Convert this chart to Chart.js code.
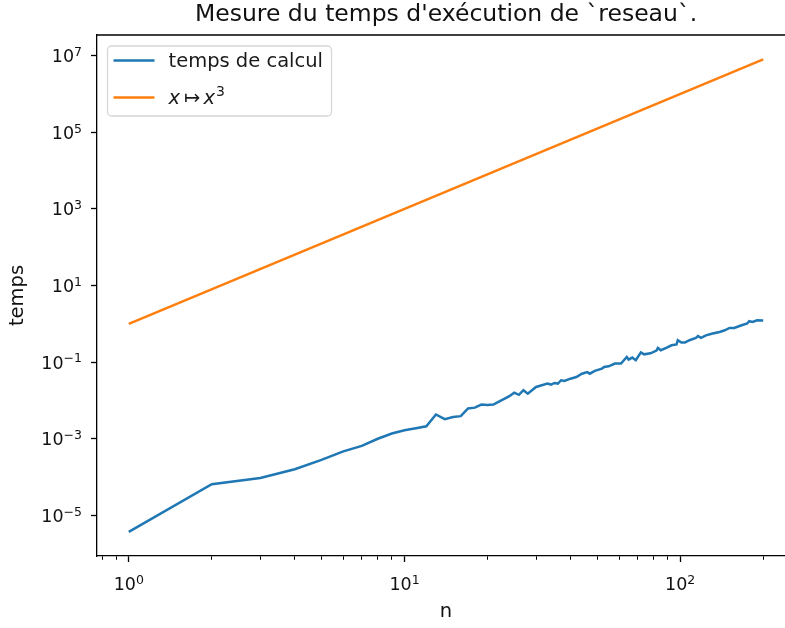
<!DOCTYPE html>
<html>
<head>
<meta charset="utf-8">
<script src="https://cdn.jsdelivr.net/npm/chart.js@4.4.0/dist/chart.umd.min.js"></script>
<style>
  html, body { margin: 0; padding: 0; overflow: hidden; background: #fff; }
  #wrap { width: 830px; height: 628px; }
</style>
</head>
<body>
<div id="wrap"><canvas id="chart" width="830" height="628"></canvas></div>
<script>
// values
const nValues = [1, 2, 3, 4, 5, 6, 7, 8, 9, 10, 11, 12, 13, 14, 15, 16, 17, 18, 19, 20,
  21, 22, 23, 24, 25, 26, 27, 28, 29, 30, 33, 34, 35, 36, 37, 38, 40, 42, 44, 46,
  47, 49, 52, 53, 55, 58, 61, 64, 65, 67, 69, 72, 74, 78, 82, 83, 85, 89, 93, 97,
  98, 101, 104, 108, 114, 116, 119, 124, 131, 139, 145, 151, 157, 167, 175, 178, 183, 190, 200];
const tempsCalcul = [3.7e-6, 6.5e-5, 9.5e-5, 1.6e-4, 2.8e-4, 4.7e-4, 6.5e-4, 1.0e-3, 1.37e-3, 1.67e-3,
  1.88e-3, 2.12e-3, 4.3e-3, 3.24e-3, 3.7e-3, 3.9e-3, 6.2e-3, 6.5e-3, 7.8e-3, 7.6e-3,
  7.8e-3, 9.3e-3, 1.1e-2, 1.29e-2, 1.6e-2, 1.4e-2, 1.85e-2, 1.5e-2, 1.85e-2, 2.25e-2,
  2.76e-2, 2.6e-2, 2.86e-2, 2.76e-2, 3.37e-2, 3.24e-2, 3.7e-2, 4.1e-2, 5.0e-2, 5.5e-2,
  5.0e-2, 5.9e-2, 6.8e-2, 7.5e-2, 7.8e-2, 9.2e-2, 9.2e-2, 0.137, 0.117, 0.132,
  0.112, 0.18, 0.16, 0.17, 0.2, 0.235, 0.205, 0.235, 0.276, 0.29,
  0.373, 0.325, 0.325, 0.373, 0.43, 0.48, 0.43, 0.5, 0.56, 0.615,
  0.68, 0.78, 0.78, 0.92, 1.02, 1.17, 1.12, 1.24, 1.22];
const cubeN = [1, 200];
const cubeValues = [1, 8e6];

const xMajorTicks = [1, 10, 100];
const xTickExponents = ['0', '1', '2'];
const xMinorTicks = [0.8, 0.9, 2, 3, 4, 5, 6, 7, 8, 9, 20, 30, 40, 50, 60, 70, 80, 90, 200];
const yMajorTicks = [1e-5, 1e-3, 1e-1, 1e1, 1e3, 1e5, 1e7];
const yTickExponents = ['\u22125', '\u22123', '\u22121', '1', '3', '5', '7'];

const FONT = "'DejaVu Sans', sans-serif";
const TICK_SIZE = 17.5;
const EXP_SIZE = 12.5;

function toPoints(xs, ys) {
  return xs.map((x, i) => ({ x: x, y: ys[i] }));
}

// "10" followed by a raised exponent, like matplotlib's mathtext labels
function powerLabel(c, exp, x, baseline, align) {
  c.font = TICK_SIZE + 'px ' + FONT;
  const wBase = c.measureText('10').width;
  c.font = EXP_SIZE + 'px ' + FONT;
  const wExp = c.measureText(exp).width;
  const total = wBase + wExp;
  const left = align === 'center' ? x - total / 2 : x - total;
  c.textAlign = 'left';
  c.textBaseline = 'alphabetic';
  c.font = TICK_SIZE + 'px ' + FONT;
  c.fillText('10', left, baseline);
  c.font = EXP_SIZE + 'px ' + FONT;
  c.fillText(exp, left + wBase, baseline - 6.3);
}

const tickLabels = {
  id: 'tickLabels',
  afterDraw(chart) {
    const { ctx: c, scales, chartArea: a } = chart;
    c.save();
    c.fillStyle = '#111';
    xMajorTicks.forEach((v, i) => {
      powerLabel(c, xTickExponents[i], scales.x.getPixelForValue(v), a.bottom + 34, 'center');
    });
    yMajorTicks.forEach((v, i) => {
      powerLabel(c, yTickExponents[i], a.left - 15, scales.y.getPixelForValue(v) + 6.5, 'right');
    });
    c.restore();
  }
};

// top and right spines (the right one falls outside the window, like in the reference)
const frame = {
  id: 'frame',
  afterDraw(chart) {
    const { ctx, chartArea: a } = chart;
    ctx.save();
    ctx.strokeStyle = '#000';
    ctx.lineWidth = 1.3;
    ctx.beginPath();
    ctx.moveTo(a.left, a.top);
    ctx.lineTo(a.right, a.top);
    ctx.lineTo(a.right, a.bottom);
    ctx.stroke();
    ctx.restore();
  }
};

// matplotlib-like legend box in the upper left corner
const legendBox = {
  id: 'legendBox',
  afterDraw(chart) {
    const { ctx, chartArea: a } = chart;
    const x0 = a.left + 10.5, y0 = a.top + 11, w = 224, h = 70;
    ctx.save();
    ctx.fillStyle = 'rgba(255,255,255,0.8)';
    ctx.strokeStyle = '#d6d6d6';
    ctx.lineWidth = 1.3;
    ctx.beginPath();
    ctx.roundRect(x0, y0, w, h, 4);
    ctx.fill();
    ctx.stroke();

    chart.data.datasets.forEach((ds, i) => {
      const ly = y0 + 14.5 + i * 37;
      ctx.strokeStyle = ds.borderColor;
      ctx.lineWidth = 2.5;
      ctx.beginPath();
      ctx.moveTo(x0 + 6, ly);
      ctx.lineTo(x0 + 47, ly);
      ctx.stroke();

      ctx.fillStyle = '#1a1a1a';
      ctx.textBaseline = 'alphabetic';
      let tx = x0 + 61;
      const by = ly + 6.6;
      if (!ds.mathLabel) {
        ctx.font = '19.5px ' + FONT;
        ctx.fillText(ds.label, tx, by);
        return;
      }
      for (const ch of ds.label) {
        if (ch === '³') {
          ctx.font = '14px ' + FONT;
          ctx.fillText('3', tx + 1, by - 8);
          tx += ctx.measureText('3').width + 1;
        } else if (/[a-z]/.test(ch)) {
          ctx.font = 'italic 19.5px ' + FONT;
          ctx.fillText(ch, tx, by);
          tx += ctx.measureText(ch).width;
        } else if (ch !== ' ') {
          ctx.font = '19.5px ' + FONT;
          ctx.fillText(ch, tx + 4, by);
          tx += ctx.measureText(ch).width + 7;
        }
      }
    });
    ctx.restore();
  }
};

const ctx = document.getElementById('chart').getContext('2d');
new Chart(ctx, {
  type: 'line',
  data: {
    datasets: [{
      label: 'temps de calcul',
      data: toPoints(nValues, tempsCalcul),
      borderColor: '#1f77b4',
      borderWidth: 2.5,
      pointRadius: 0,
      tension: 0
    }, {
      label: 'x ↦ x³',
      mathLabel: true,
      data: toPoints(cubeN, cubeValues),
      borderColor: '#ff7f0e',
      borderWidth: 2.5,
      pointRadius: 0,
      tension: 0
    }]
  },
  options: {
    responsive: false,
    animation: false,
    layout: { padding: { left: 0, right: 35, top: 0, bottom: 0 } },
    plugins: {
      legend: { display: false },
      tooltip: { enabled: false },
      title: {
        display: true,
        fullSize: false,
        text: "Mesure du temps d'exécution de `reseau`.",
        color: '#111',
        font: { family: FONT, size: 23.5, weight: 'normal' },
        padding: { top: 0.5, bottom: 6.3 }
      }
    },
    scales: {
      x: {
        type: 'logarithmic',
        min: 0.767,
        max: 260.8,
        afterBuildTicks: (s) => {
          s.ticks = xMajorTicks.concat(xMinorTicks).sort((a, b) => a - b).map(v => ({ value: v }));
        },
        afterFit: (s) => { s.height = 72; },
        ticks: { display: false, autoSkip: false },
        grid: {
          drawOnChartArea: false,
          tickLength: 6,
          tickColor: '#000',
          tickWidth: (c) => xMajorTicks.includes(c.tick.value) ? 1.3 : 1.0,
          tickBorderDash: (c) => xMajorTicks.includes(c.tick.value) ? [] : [3.5, 30]
        },
        border: { color: '#000', width: 1.3 },
        title: {
          display: true,
          text: 'n',
          color: '#111',
          font: { family: FONT, size: 19.5 },
          padding: { top: 0, bottom: 4.5 }
        }
      },
      y: {
        type: 'logarithmic',
        min: 8.7e-7,
        max: 3.47e7,
        afterBuildTicks: (s) => {
          s.ticks = yMajorTicks.map(v => ({ value: v }));
        },
        afterFit: (s) => { s.width = 97; },
        ticks: { display: false, autoSkip: false },
        grid: {
          drawOnChartArea: false,
          tickLength: 6,
          tickColor: '#000',
          tickWidth: 1.3
        },
        border: { color: '#000', width: 1.3 },
        title: {
          display: true,
          text: 'temps',
          color: '#111',
          font: { family: FONT, size: 19.5 },
          padding: { top: 6, bottom: 0 }
        }
      }
    }
  },
  plugins: [frame, legendBox, tickLabels]
});
</script>
</body>
</html>
